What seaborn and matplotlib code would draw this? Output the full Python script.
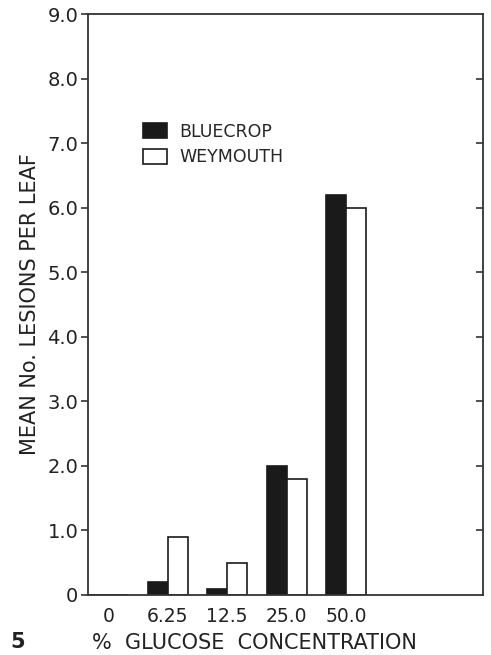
import matplotlib
matplotlib.use("Agg")
import matplotlib.pyplot as plt
import seaborn as sns
import pandas as pd

concentrations = ["0", "6.25", "12.5", "25.0", "50.0"]
bluecrop = [0.0, 0.2, 0.1, 2.0, 6.2]
weymouth = [0.0, 0.9, 0.5, 1.8, 6.0]
yticks = [0, 1, 2, 3, 4, 5, 6, 7, 8, 9]
ytick_labels = ["0", "1.0", "2.0", "3.0", "4.0", "5.0", "6.0", "7.0", "8.0", "9.0"]

df = pd.DataFrame({
    "conc": concentrations * 2,
    "value": bluecrop + weymouth,
    "cultivar": ["BLUECROP"] * 5 + ["WEYMOUTH"] * 5,
})

sns.set_style("white")
plt.rcParams["font.family"] = ["DejaVu Sans"]

fig = plt.figure(figsize=(4.91, 6.55), dpi=100)
ax = fig.add_axes([88 / 491, 1 - 595 / 655, (483 - 88) / 491, (595 - 14) / 655])

sns.barplot(data=df, x="conc", y="value", hue="cultivar", order=concentrations,
            palette={"BLUECROP": "#1a1a1a", "WEYMOUTH": "white"},
            edgecolor="#1a1a1a", linewidth=1.2, width=0.67, ax=ax, legend=True)

ax.set_xlim(-0.34, 6.3)
ax.set_ylim(0, 9)
ax.set_yticks(yticks)
ax.set_yticklabels(ytick_labels, fontsize=14, color="#222222")
ax.tick_params(axis="y", direction="out", length=5, width=1.2, color="#333333",
               left=True, right=False, pad=2)
ax.tick_params(axis="x", length=0, labelsize=13.5, labelcolor="#222222", pad=9)

for s in ax.spines.values():
    s.set_visible(True)
    s.set_color("#333333")
    s.set_linewidth(1.3)

# inward ticks on right spine
ax2 = ax.twinx()
ax2.set_ylim(0, 9)
ax2.set_yticks(yticks[1:-1])
ax2.set_yticklabels([])
ax2.tick_params(axis="y", direction="in", length=5, width=1.2, color="#333333")
for s in ax2.spines.values():
    s.set_visible(False)

ax.set_xlabel("%  GLUCOSE  CONCENTRATION", fontsize=15, color="#222222")
ax.xaxis.label.set_va("center")
ax.xaxis.set_label_coords((254 - 88) / 395, -(643 - 595) / 581)
ax.set_ylabel("MEAN No. LESIONS PER LEAF", fontsize=15, color="#222222")
ax.yaxis.label.set_va("center")
ax.yaxis.set_label_coords(-(88 - 30) / 395, (596 - 305) / 581)

leg = ax.legend(loc="upper left", bbox_to_anchor=(0.1, 0.84), frameon=False,
                fontsize=12.5, handlelength=1.4, handleheight=0.9, handletextpad=0.7,
                labelspacing=0.45)

fig.text(18 / 491, 1 - 642 / 655, "5", fontsize=15, fontweight="bold",
         ha="center", va="center", color="#222222")

fig.savefig("out.png", dpi=100)
